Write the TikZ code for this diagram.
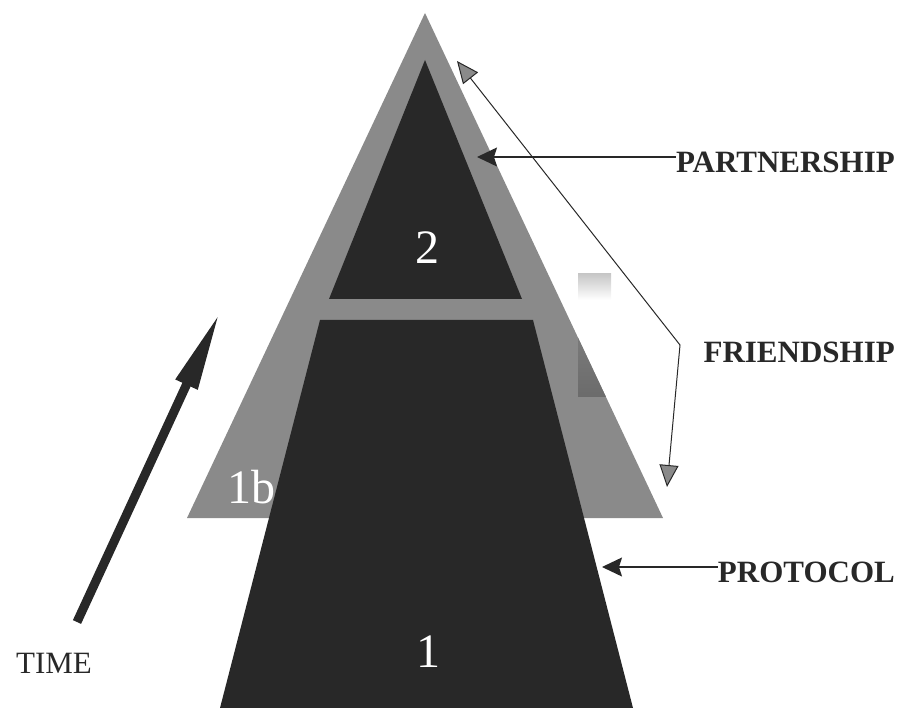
\documentclass[tikz,border=0pt]{standalone}
\usepackage{fontspec}
\setmainfont{Liberation Serif}
\usetikzlibrary{arrows.meta}
\definecolor{midgray}{RGB}{138,138,138}
\definecolor{darkfill}{RGB}{40,40,40}

\begin{document}
\begin{tikzpicture}[x=1pt,y=-1pt,>={Stealth[length=20pt,width=19pt,inset=3pt]},
    every node/.style={inner sep=0pt},
    lbl/.style={font=\fontsize{31}{31}\selectfont\bfseries,text=darkfill,anchor=east},
    num/.style={font=\fontsize{48}{48}\selectfont,text=white},
    grayhead/.style={-{Triangle[length=22pt,width=19pt,fill=midgray]},line width=1pt,draw=darkfill}]
    \useasboundingbox (0,0) rectangle (905,708);

    \fill[midgray] (425,13) -- (663,518) -- (187,518) -- cycle;
    \shade[top color=black!22,bottom color=white] (578,274) rectangle (611,300);
    \begin{scope}
        \clip (425,13) -- (663,518) -- (187,518) -- cycle;
        \shade[top color=midgray,bottom color=black!58] (578,274) rectangle (611,397);
    \end{scope}
    \fill[darkfill] (425,60) -- (522,299) -- (329,299) -- cycle;
    \fill[darkfill] (320,320) -- (533,320) -- (633,708) -- (220,708) -- cycle;

    \node[num] (lvltwo) at (427,248) {2};
    \node[num] (lvlone) at (428,652) {1};
    \node[num] (lvlonebl) at (251,487) {1b};

    \node[lbl] (partner) at (895,162) {PARTNERSHIP};
    \node[lbl] (friend) at (895,352) {FRIENDSHIP};
    \node[lbl] (proto) at (895,572) {PROTOCOL};
    \node[font=\fontsize{31}{31}\selectfont,text=darkfill] (timelbl) at (54,663) {TIME};

    \coordinate (ptip) at (477,157);
    \coordinate (prtip) at (602,567);
    \coordinate (fknee) at (680,345);
    \coordinate (ftop) at (457,61);
    \coordinate (fbot) at (667,487);
    \coordinate (ttail) at (77,622);
    \coordinate (thead) at (220,312);

    \draw[->,line width=1.2pt,darkfill] ([yshift=5pt]partner.west) -- (ptip);
    \draw[->,line width=1.2pt,darkfill] ([yshift=5pt]proto.west) -- (prtip);
    \draw[grayhead] (fknee) -- (ftop);
    \draw[grayhead] (fknee) -- (fbot);
    \draw[line width=9pt,darkfill,-{Triangle[length=80pt,width=22pt]}] (ttail) -- (thead);
\end{tikzpicture}
\end{document}
